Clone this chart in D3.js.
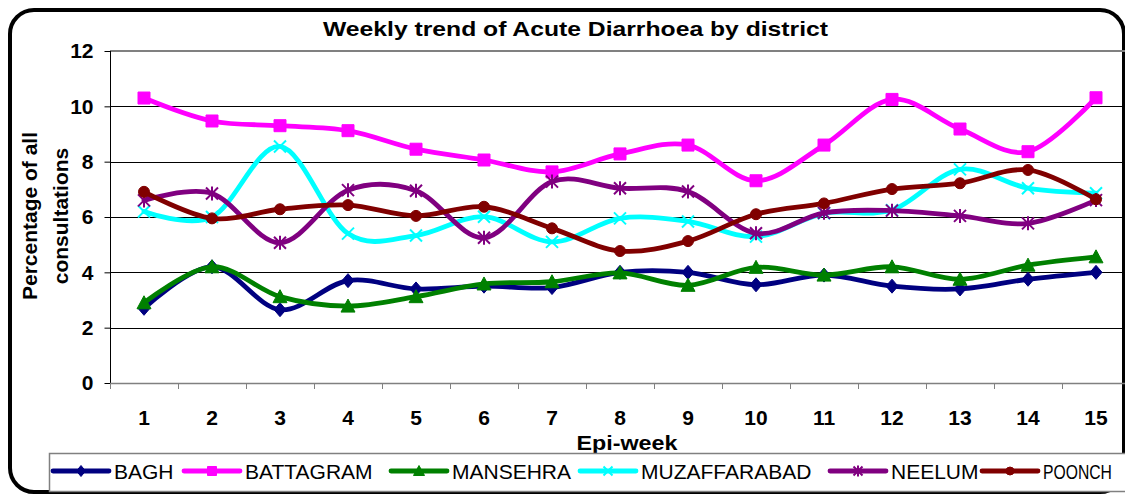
<!DOCTYPE html>
<html>
<head>
<meta charset="utf-8">
<script src="https://cdn.jsdelivr.net/npm/d3@7"></script>
<style>
html,body{margin:0;padding:0;background:#fff;overflow:hidden;}
svg{display:block;font-family:"Liberation Sans",Arial,sans-serif;}
</style>
</head>
<body>
<svg id="chart" width="1125" height="494"></svg>
<script>
// ---- data ----
const weeks = ["1","2","3","4","5","6","7","8","9","10","11","12","13","14","15"];
const districts = ["BAGH","BATTAGRAM","MANSEHRA","MUZAFFARABAD","NEELUM","POONCH"];
const bagh         = [2.7,4.2,2.65,3.7,3.4,3.5,3.45,4.0,4.0,3.55,3.9,3.5,3.4,3.75,4.0];
const battagram    = [10.3,9.47,9.3,9.12,8.45,8.06,7.63,8.28,8.6,7.31,8.6,10.25,9.18,8.36,10.31];
const mansehra     = [2.9,4.2,3.12,2.78,3.12,3.58,3.66,3.98,3.53,4.18,3.9,4.2,3.75,4.26,4.56];
const muzaffarabad = [6.2,6.0,8.55,5.4,5.33,6.01,5.1,5.95,5.84,5.29,6.13,6.25,7.72,7.04,6.86];
const neelum       = [6.6,6.85,5.07,6.97,6.95,5.25,7.28,7.04,6.92,5.41,6.15,6.23,6.04,5.77,6.61];
const poonch       = [6.91,5.95,6.28,6.43,6.04,6.37,5.59,4.77,5.13,6.1,6.49,7.01,7.22,7.7,6.64];
const yTicks = [0,2,4,6,8,10,12];
const titleText = "Weekly trend of Acute Diarrhoea by district";
const xTitle = "Epi-week";
const yTitle = ["Percentage of all","consultations"];

// ---- styles / layout ----
const colors = ["#000080","#FF00FF","#008000","#00FFFF","#800080","#800000"];
const markers = ["diamond","square","triangle","x","star","circle"];
const seriesValues = [bagh,battagram,mansehra,muzaffarabad,neelum,poonch];
const legendX = [53,184,391,580,830,982];

const svg = d3.select("#chart");
const plot = {left:110, top:51, bottom:383, step:68};

const x = d3.scaleBand().domain(weeks).range([plot.left, plot.left + plot.step*weeks.length]).padding(0);
const y = d3.scaleLinear().domain([0,12]).range([plot.bottom, plot.top]);

// outer rounded border
svg.append("rect").attr("x",10).attr("y",10).attr("width",1114).attr("height",482)
  .attr("rx",24).attr("ry",24).attr("fill","#fff").attr("stroke","#000").attr("stroke-width",4);

// title
svg.append("text").attr("x",575.5).attr("y",36).attr("text-anchor","middle")
  .attr("font-size",21).attr("font-weight","bold").attr("textLength",505)
  .attr("lengthAdjust","spacingAndGlyphs").text(titleText);

// gridlines
const gridG = svg.append("g");
gridG.selectAll("line").data(yTicks.filter(d=>d>0 && d<12)).join("line")
  .attr("x1",plot.left).attr("x2",1125).attr("y1",d=>Math.round(y(d))+0.5).attr("y2",d=>Math.round(y(d))+0.5)
  .attr("stroke","#000").attr("stroke-width",1);
// top plot border
svg.append("line").attr("x1",plot.left).attr("x2",1125).attr("y1",y(12)).attr("y2",y(12))
  .attr("stroke","#808080").attr("stroke-width",2);

// y axis
const yAxis = svg.append("g").attr("transform",`translate(${plot.left+0.5},0)`)
  .call(d3.axisLeft(y).tickValues(yTicks).tickSize(6).tickPadding(11).tickFormat(d3.format("d")));
yAxis.select(".domain").attr("stroke","#000").attr("d",`M0,${y(12)}V${y(0)}`);
yAxis.selectAll(".tick line").attr("stroke","#000");
yAxis.selectAll(".tick text").attr("font-size",21).attr("font-weight","bold")
  .attr("font-family","'Liberation Sans',Arial,sans-serif").attr("fill","#000");

// x axis
const xAxis = svg.append("g").attr("transform",`translate(0,${plot.bottom+0.5})`)
  .call(d3.axisBottom(x).tickSize(0).tickPadding(27));
xAxis.select(".domain").attr("stroke","#808080").attr("stroke-width",1.5)
  .attr("d",`M${plot.left},0H1125`);
xAxis.selectAll(".tick text").attr("font-size",21).attr("font-weight","bold")
  .attr("font-family","'Liberation Sans',Arial,sans-serif").attr("fill","#000");
// boundary ticks
svg.append("g").selectAll("line").data(weeks.map((w,i)=>i)).join("line")
  .attr("x1",i=>x(weeks[i])+0.5).attr("x2",i=>x(weeks[i])+0.5)
  .attr("y1",plot.bottom).attr("y2",plot.bottom+6).attr("stroke","#808080").attr("stroke-width",1);

// axis titles
svg.append("text").attr("x",627).attr("y",450).attr("text-anchor","middle")
  .attr("font-size",20).attr("font-weight","bold").attr("textLength",101)
  .attr("lengthAdjust","spacingAndGlyphs").text(xTitle);
const yt = svg.append("text").attr("transform","translate(0,216) rotate(-90)")
  .attr("text-anchor","middle").attr("font-size",21).attr("font-weight","bold");
yt.append("tspan").attr("x",0).attr("y",37).text(yTitle[0]);
yt.append("tspan").attr("x",0).attr("y",68).text(yTitle[1]);

// marker path generator
function markerPath(type, s){
  const h = s/2;
  switch(type){
    case "diamond": return `M0,${-h-1}L${h},0L0,${h+1}L${-h},0Z`;
    case "square": return `M${-h},${-h}H${h}V${h}H${-h}Z`;
    case "triangle": return `M0,${-h-1}L${h+1},${h}H${-h-1}Z`;
    case "circle": return d3.symbol(d3.symbolCircle, Math.PI*h*h)();
    case "x": return `M${-h},${-h}L${h},${h}M${h},${-h}L${-h},${h}`;
    case "star": return `M${-h},${-h}L${h},${h}M${h},${-h}L${-h},${h}M0,${-h-1}V${h+1}`;
  }
}
function drawMarker(g, type, color, s){
  const filled = !(type==="x" || type==="star");
  g.append("path").attr("d",markerPath(type,s))
    .attr("fill", filled ? color : "none")
    .attr("stroke", color).attr("stroke-width", filled ? 1 : 2);
}

// series
const line = d3.line().x((d,i)=>x(weeks[i])+x.bandwidth()/2).y(d=>y(d)).curve(d3.curveCardinal.tension(0));
const seriesG = svg.append("g");
districts.forEach((name, si)=>{
  const g = seriesG.append("g");
  g.append("path").attr("d", line(seriesValues[si])).attr("fill","none")
    .attr("stroke", colors[si]).attr("stroke-width",4.8).attr("stroke-linejoin","round").attr("stroke-linecap","round");
  seriesValues[si].forEach((v,i)=>{
    const mg = g.append("g").attr("transform",`translate(${x(weeks[i])+x.bandwidth()/2},${y(v)})`);
    drawMarker(mg, markers[si], colors[si], markers[si]==="circle"?11:12);
  });
});

// legend (drawn over the frame, as in the reference)
svg.append("rect").attr("x",49.5).attr("y",453.5).attr("width",1100).attr("height",38)
  .attr("fill","#fff").attr("stroke","#808080").attr("stroke-width",1.5);
const lg = svg.append("g");
districts.forEach((name, si)=>{
  const x0 = legendX[si];
  lg.append("line").attr("x1",x0).attr("x2",x0+56).attr("y1",471).attr("y2",471)
    .attr("stroke",colors[si]).attr("stroke-width",4.8).attr("stroke-linecap","round");
  const mg = lg.append("g").attr("transform",`translate(${x0+28},471)`);
  drawMarker(mg, markers[si], colors[si], markers[si]==="circle"?8:9);
  const tg = lg.append("g").attr("transform",`translate(${x0+61},478.5)`);
  const t = tg.append("text").attr("x",0).attr("y",0).attr("font-size",21).text(name);
  const w = t.node().getComputedTextLength();
  const maxW = 1112 - (x0+61);
  if (w > maxW) {
    const fs = 21 * maxW / w;
    t.attr("font-size", fs.toFixed(2));
    tg.attr("transform",`translate(${x0+61},478.5) scale(1,${(21/fs).toFixed(3)})`);
  }
});
</script>
</body>
</html>
